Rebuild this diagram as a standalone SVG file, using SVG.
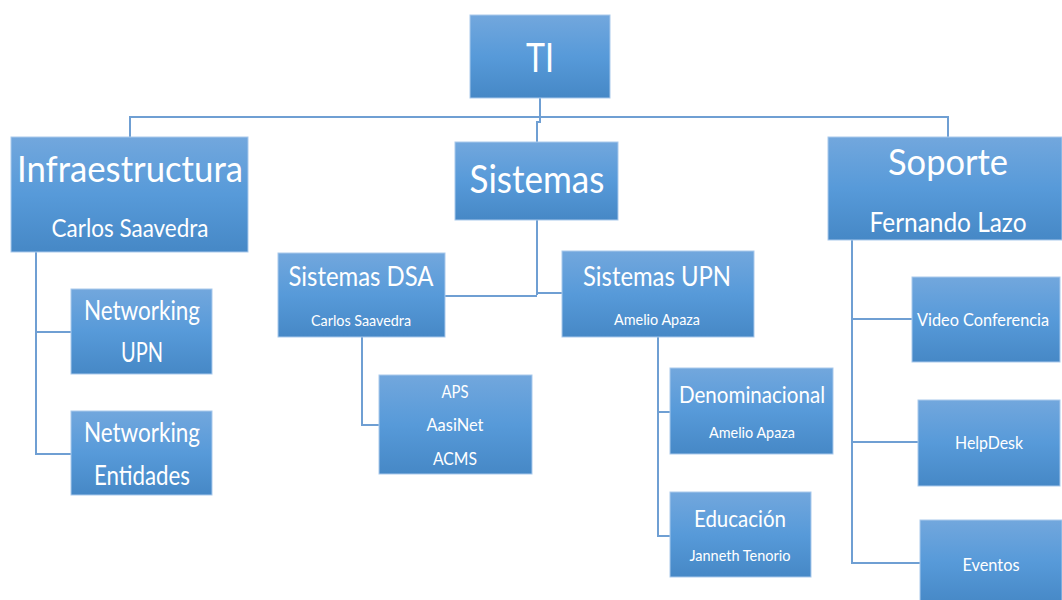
<svg xmlns="http://www.w3.org/2000/svg" width="1062" height="600" viewBox="0 0 1062 600">
  <defs>
    <linearGradient id="boxFill" x1="0" y1="0" x2="0" y2="1">
      <stop offset="0" stop-color="#72a7dd"/>
      <stop offset="0.5" stop-color="#579ad9"/>
      <stop offset="1" stop-color="#4688c6"/>
    </linearGradient>
  </defs>
  <style>
    .box { fill: url(#boxFill); stroke: #a9c9ec; stroke-width: 1; }
    .t { fill: #ffffff; font-family: Lato, "Open Sans", "Liberation Sans", sans-serif; text-anchor: middle; }
    .link { fill: none; stroke: #6f9fd3; stroke-width: 2; }
  </style>
  <rect width="1062" height="600" fill="#ffffff"/>

  <!-- connectors -->
  <g id="connectors">
    <path class="link" d="M540 98 V122 H537 V142"/>
    <path class="link" d="M130 137 V117 H948 V137"/>
    <path class="link" d="M36 252 V454 H71 M36 332 H71"/>
    <path class="link" d="M537 220 V295 M445 296 H537 M537 293 H562"/>
    <path class="link" d="M362 337 V425 H379"/>
    <path class="link" d="M658 337 V536 H670 M658 412 H670"/>
    <path class="link" d="M852 240 V563 H920 M852 319 H912 M852 442 H918"/>
  </g>

  <g id="ti">
    <rect class="box" x="470" y="15" width="140" height="83"/>
    <text class="t" x="540" y="72" font-size="40" textLength="28" lengthAdjust="spacingAndGlyphs">TI</text>
  </g>

  <g id="infraestructura">
    <rect class="box" x="11" y="137" width="237" height="115"/>
    <text class="t" x="130" y="182" font-size="37" textLength="226" lengthAdjust="spacingAndGlyphs">Infraestructura</text>
    <text class="t" x="130" y="237" font-size="25" textLength="157" lengthAdjust="spacingAndGlyphs">Carlos Saavedra</text>
  </g>

  <g id="sistemas">
    <rect class="box" x="455" y="142" width="163" height="78"/>
    <text class="t" x="537" y="193" font-size="38" textLength="135" lengthAdjust="spacingAndGlyphs">Sistemas</text>
  </g>

  <g id="soporte">
    <rect class="box" x="828" y="137" width="234" height="103"/>
    <text class="t" x="948" y="175" font-size="37" textLength="120" lengthAdjust="spacingAndGlyphs">Soporte</text>
    <text class="t" x="948" y="232" font-size="26" textLength="157" lengthAdjust="spacingAndGlyphs">Fernando Lazo</text>
  </g>

  <g id="networking-upn">
    <rect class="box" x="71" y="289" width="141" height="85"/>
    <text class="t" x="142" y="320" font-size="26" textLength="116" lengthAdjust="spacingAndGlyphs">Networking</text>
    <text class="t" x="142" y="362" font-size="26" textLength="42" lengthAdjust="spacingAndGlyphs">UPN</text>
  </g>

  <g id="networking-entidades">
    <rect class="box" x="71" y="411" width="141" height="84"/>
    <text class="t" x="142" y="442" font-size="26" textLength="116" lengthAdjust="spacingAndGlyphs">Networking</text>
    <text class="t" x="142" y="485" font-size="26" textLength="96" lengthAdjust="spacingAndGlyphs">Entidades</text>
  </g>

  <g id="sistemas-dsa">
    <rect class="box" x="278" y="253" width="167" height="84"/>
    <text class="t" x="361" y="286" font-size="26" textLength="145" lengthAdjust="spacingAndGlyphs">Sistemas DSA</text>
    <text class="t" x="361" y="326" font-size="15" textLength="100" lengthAdjust="spacingAndGlyphs">Carlos Saavedra</text>
  </g>

  <g id="sistemas-upn">
    <rect class="box" x="562" y="251" width="192" height="86"/>
    <text class="t" x="657" y="286" font-size="26" textLength="148" lengthAdjust="spacingAndGlyphs">Sistemas UPN</text>
    <text class="t" x="657" y="325" font-size="15" textLength="86" lengthAdjust="spacingAndGlyphs">Amelio Apaza</text>
  </g>

  <g id="aplicaciones-dsa">
    <rect class="box" x="379" y="375" width="153" height="99"/>
    <text class="t" x="455" y="398" font-size="18" textLength="27" lengthAdjust="spacingAndGlyphs">APS</text>
    <text class="t" x="455" y="431" font-size="18" textLength="57" lengthAdjust="spacingAndGlyphs">AasiNet</text>
    <text class="t" x="455" y="465" font-size="18" textLength="44" lengthAdjust="spacingAndGlyphs">ACMS</text>
  </g>

  <g id="denominacional">
    <rect class="box" x="670" y="368" width="163" height="86"/>
    <text class="t" x="752" y="403" font-size="24" textLength="146" lengthAdjust="spacingAndGlyphs">Denominacional</text>
    <text class="t" x="752" y="438" font-size="15" textLength="86" lengthAdjust="spacingAndGlyphs">Amelio Apaza</text>
  </g>

  <g id="educacion">
    <rect class="box" x="670" y="492" width="141" height="85"/>
    <text class="t" x="740" y="527" font-size="24" textLength="92" lengthAdjust="spacingAndGlyphs">Educación</text>
    <text class="t" x="740" y="561" font-size="15" textLength="101" lengthAdjust="spacingAndGlyphs">Janneth Tenorio</text>
  </g>

  <g id="video-conferencia">
    <rect class="box" x="912" y="277" width="148" height="85"/>
    <text class="t" x="983" y="326" font-size="18" textLength="132" lengthAdjust="spacingAndGlyphs">Video Conferencia</text>
  </g>

  <g id="helpdesk">
    <rect class="box" x="918" y="400" width="142" height="86"/>
    <text class="t" x="989" y="449" font-size="18" textLength="68" lengthAdjust="spacingAndGlyphs">HelpDesk</text>
  </g>

  <g id="eventos">
    <rect class="box" x="920" y="520" width="142" height="84"/>
    <text class="t" x="991" y="571" font-size="18" textLength="57" lengthAdjust="spacingAndGlyphs">Eventos</text>
  </g>
</svg>
